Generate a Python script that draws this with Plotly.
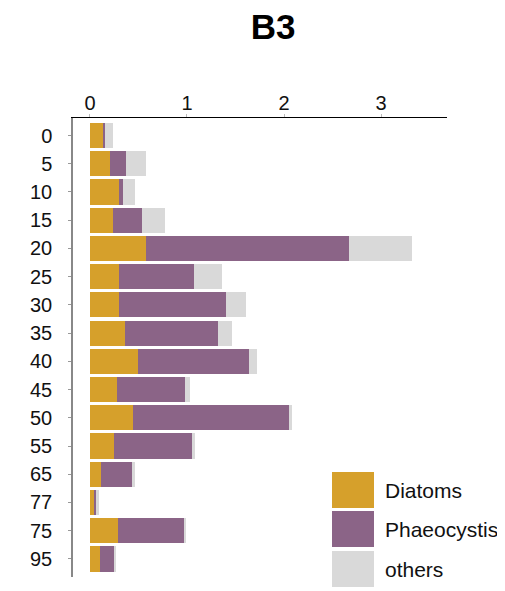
import plotly.graph_objects as go

depths = ["0", "5", "10", "15", "20", "25", "30", "35", "40", "45", "50", "55", "65", "77", "75", "95"]
diatoms = [0.14, 0.21, 0.30, 0.24, 0.58, 0.30, 0.30, 0.36, 0.49, 0.28, 0.44, 0.25, 0.11, 0.04, 0.29, 0.10]
phaeocystis = [0.01, 0.16, 0.04, 0.30, 2.09, 0.77, 1.10, 0.96, 1.15, 0.70, 1.61, 0.81, 0.33, 0.03, 0.68, 0.15]
others = [0.09, 0.21, 0.12, 0.23, 0.65, 0.29, 0.21, 0.14, 0.08, 0.05, 0.03, 0.02, 0.02, 0.02, 0.01, 0.01]
x_ticks = [0, 1, 2, 3]

series = [("Diatoms", diatoms, "#D6A02B"),
          ("Phaeocystis", phaeocystis, "#8B6487"),
          ("others", others, "#D9D9D9")]

OFF = 8  # page body margin
W, H = 505 - OFF, 591 - OFF
L, R, T, B = 73 - OFF, 447 - OFF, 118 - OFF, 577 - OFF

fig = go.Figure()
for name, vals, col in series:
    fig.add_trace(go.Bar(y=depths, x=vals, orientation="h", name=name,
                         marker=dict(color=col, line=dict(width=0)),
                         showlegend=False))

font = "Liberation Sans, Arial, sans-serif"
fig.update_layout(
    width=W, height=H,
    margin=dict(l=L, r=W - R, t=T, b=H - B, pad=0),
    barmode="stack", bargap=0.11,
    plot_bgcolor="white", paper_bgcolor="white",
    title=dict(text="<b>B3</b>", x=(273 - OFF) / W, xanchor="center", y=1, yanchor="top",
               pad=dict(t=6), font=dict(family=font, size=35, color="black")),
    font=dict(family=font, size=20, color="#111"),
)
fig.update_xaxes(side="top", range=[-0.175, 3.68], tickvals=x_ticks,
                 showgrid=False, zeroline=False, showline=True, linecolor="black", linewidth=1,
                 ticks="outside", ticklen=3, tickcolor="#bbb", ticklabelstandoff=-4,
                 tickfont=dict(size=20, family=font, color="#111"))
fig.update_yaxes(type="category", range=[15.64, -0.62], showgrid=False, zeroline=False,
                 showline=True, linecolor="#888", linewidth=1.5,
                 ticks="outside", ticklen=3, tickcolor="#999", ticklabelstandoff=12,
                 tickfont=dict(size=20, family=font, color="#111"))

def px_x(p):
    return (p - OFF - L) / (R - L)

def px_y(p):
    return (B - (p - OFF)) / (B - T)

legend_rows = [(472, 508), (511, 547), (551, 587)]
for (name, vals, col), (y0, y1) in zip(series, legend_rows):
    fig.add_shape(type="rect", xref="paper", yref="paper",
                  x0=px_x(332), x1=px_x(374), y0=px_y(y1), y1=px_y(y0),
                  fillcolor=col, line=dict(width=0))
    fig.add_annotation(text=name, xref="paper", yref="paper", x=px_x(383), y=px_y((y0 + y1) / 2),
                       xanchor="left", yanchor="middle", showarrow=False,
                       font=dict(family=font, size=21, color="#111"))

fig.write_html("out.html")
